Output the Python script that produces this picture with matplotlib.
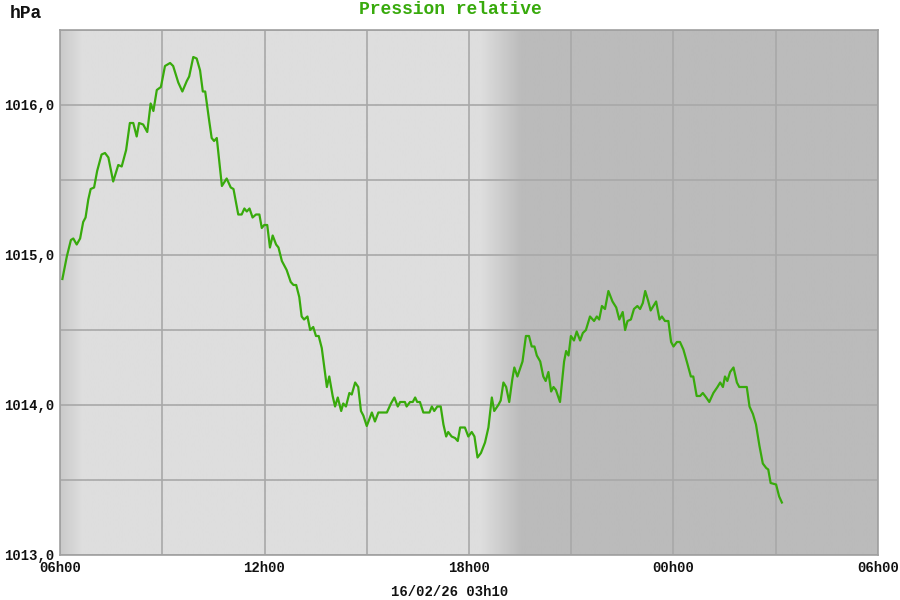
import numpy as np
import matplotlib
matplotlib.use("Agg")
import matplotlib.pyplot as plt
from matplotlib.colors import LinearSegmentedColormap

# Hours elapsed since 06h00 on the first day
hours = [0.07, 0.20, 0.32, 0.39, 0.49, 0.59, 0.68, 0.75, 0.83, 0.90, 1.00, 1.09, 1.22, 1.32, 1.42, 1.56,
         1.71, 1.81, 1.94, 2.05, 2.15, 2.25, 2.32, 2.44, 2.56, 2.66, 2.74, 2.84, 2.96, 3.08, 3.23, 3.32,
         3.47, 3.59, 3.72, 3.79, 3.91, 4.01, 4.11, 4.19, 4.26, 4.38, 4.45, 4.52, 4.60, 4.75, 4.89, 5.01,
         5.09, 5.23, 5.33, 5.41, 5.48, 5.56, 5.65, 5.75, 5.85, 5.92, 5.99, 6.08, 6.16, 6.24, 6.34, 6.41,
         6.51, 6.65, 6.77, 6.85, 6.93, 7.02, 7.09, 7.16, 7.26, 7.34, 7.43, 7.51, 7.59, 7.68, 7.75, 7.83,
         7.90, 8.00, 8.07, 8.15, 8.25, 8.31, 8.39, 8.49, 8.56, 8.66, 8.75, 8.83, 8.90, 9.00, 9.15, 9.24,
         9.34, 9.59, 9.71, 9.81, 9.91, 9.98, 10.12, 10.17, 10.27, 10.35, 10.42, 10.48, 10.56, 10.66, 10.84, 10.91,
         10.98, 11.07, 11.17, 11.25, 11.33, 11.39, 11.49, 11.59, 11.67, 11.74, 11.88, 11.98, 12.08, 12.16, 12.25, 12.35,
         12.47, 12.57, 12.67, 12.74, 12.86, 12.93, 13.01, 13.09, 13.18, 13.27, 13.33, 13.42, 13.57, 13.67, 13.76, 13.84,
         13.92, 13.99, 14.09, 14.18, 14.25, 14.33, 14.41, 14.48, 14.55, 14.67, 14.79, 14.85, 14.92, 14.99, 15.08, 15.16,
         15.26, 15.34, 15.43, 15.55, 15.67, 15.75, 15.82, 15.90, 15.99, 16.09, 16.21, 16.32, 16.41, 16.51, 16.58, 16.65,
         16.75, 16.84, 16.94, 17.02, 17.10, 17.17, 17.25, 17.33, 17.49, 17.59, 17.66, 17.75, 17.85, 17.93, 18.00, 18.10,
         18.19, 18.29, 18.39, 18.51, 18.58, 18.68, 18.78, 18.86, 18.96, 19.05, 19.17, 19.29, 19.37, 19.45, 19.51, 19.58,
         19.66, 19.76, 19.86, 19.93, 20.15, 20.23, 20.33, 20.42, 20.52, 20.62, 20.72, 20.78, 20.85, 21.01, 21.10, 21.18]

pressure = [1014.84, 1014.99, 1015.10, 1015.11, 1015.07, 1015.11, 1015.22, 1015.25, 1015.37, 1015.44, 1015.45, 1015.56, 1015.67, 1015.68, 1015.65, 1015.49,
            1015.60, 1015.59, 1015.70, 1015.88, 1015.88, 1015.79, 1015.88, 1015.87, 1015.82, 1016.01, 1015.96, 1016.10, 1016.12, 1016.26, 1016.28, 1016.26,
            1016.15, 1016.09, 1016.16, 1016.19, 1016.32, 1016.31, 1016.23, 1016.09, 1016.09, 1015.89, 1015.78, 1015.76, 1015.78, 1015.46, 1015.51, 1015.45,
            1015.44, 1015.27, 1015.27, 1015.31, 1015.29, 1015.31, 1015.25, 1015.27, 1015.27, 1015.18, 1015.20, 1015.20, 1015.05, 1015.13, 1015.07, 1015.05,
            1014.96, 1014.90, 1014.82, 1014.80, 1014.80, 1014.72, 1014.59, 1014.57, 1014.59, 1014.50, 1014.52, 1014.46, 1014.46, 1014.38, 1014.26, 1014.12,
            1014.19, 1014.06, 1013.99, 1014.05, 1013.96, 1014.01, 1013.99, 1014.08, 1014.07, 1014.15, 1014.12, 1013.96, 1013.93, 1013.86, 1013.95, 1013.89,
            1013.95, 1013.95, 1014.01, 1014.05, 1013.99, 1014.02, 1014.02, 1013.99, 1014.02, 1014.02, 1014.05, 1014.02, 1014.02, 1013.95, 1013.95, 1013.99,
            1013.96, 1013.99, 1013.99, 1013.87, 1013.79, 1013.82, 1013.79, 1013.78, 1013.76, 1013.85, 1013.85, 1013.79, 1013.82, 1013.79, 1013.65, 1013.68,
            1013.75, 1013.85, 1014.05, 1013.96, 1014.00, 1014.03, 1014.15, 1014.12, 1014.02, 1014.17, 1014.25, 1014.19, 1014.29, 1014.46, 1014.46, 1014.39,
            1014.39, 1014.33, 1014.29, 1014.19, 1014.16, 1014.22, 1014.09, 1014.12, 1014.10, 1014.02, 1014.29, 1014.36, 1014.33, 1014.46, 1014.43, 1014.49,
            1014.43, 1014.48, 1014.50, 1014.59, 1014.56, 1014.59, 1014.57, 1014.66, 1014.64, 1014.76, 1014.69, 1014.65, 1014.57, 1014.62, 1014.50, 1014.56,
            1014.57, 1014.64, 1014.66, 1014.64, 1014.68, 1014.76, 1014.70, 1014.63, 1014.69, 1014.57, 1014.59, 1014.56, 1014.56, 1014.42, 1014.39, 1014.42,
            1014.42, 1014.37, 1014.29, 1014.19, 1014.19, 1014.06, 1014.06, 1014.08, 1014.05, 1014.02, 1014.08, 1014.12, 1014.15, 1014.12, 1014.19, 1014.16,
            1014.22, 1014.25, 1014.15, 1014.12, 1014.12, 1013.99, 1013.94, 1013.87, 1013.73, 1013.61, 1013.58, 1013.57, 1013.48, 1013.47, 1013.39, 1013.35]

x_ticks = [0, 6, 12, 18, 24]
x_labels = ["06h00", "12h00", "18h00", "00h00", "06h00"]
y_ticks = [1013.0, 1014.0, 1015.0, 1016.0]
y_labels = ["1013,0", "1014,0", "1015,0", "1016,0"]
title = "Pression relative"
unit = "hPa"
stamp = "16/02/26 03h10"

FONT = "Liberation Mono"
GREEN = "#38aa0c"

fig = plt.figure(figsize=(9, 6), dpi=100, facecolor="white")
ax = fig.add_axes([60 / 900, 45 / 600, 818 / 900, 525 / 600])

x0, x1 = 0, 24
y0, y1 = 1013.0, 1016.5

# background: light day area, darker night area with gradients
xs = np.linspace(x0, x1, 1200)
shade = np.full_like(xs, 0.87)
left = xs < 0.65
shade[left] = 0.79 + (0.87 - 0.79) * (xs[left] / 0.65)
mid = (xs >= 12.35) & (xs < 13.55)
shade[mid] = 0.87 - (0.87 - 0.733) * (xs[mid] - 12.35) / 1.2
shade[xs >= 13.55] = 0.733
ax.imshow(shade[np.newaxis, :], extent=[x0, x1, y0, y1], aspect="auto",
          cmap="gray", vmin=0, vmax=1, interpolation="bilinear", zorder=0)

ax.set_xlim(x0, x1)
ax.set_ylim(y0, y1)

ax.set_xticks(x_ticks)
ax.set_xticklabels(x_labels)
ax.set_xticks([3, 9, 15, 21], minor=True)
ax.set_yticks(y_ticks)
ax.set_yticklabels(y_labels)
ax.set_yticks([1013.5, 1014.5, 1015.5, 1016.5], minor=True)

ax.grid(True, which="both", color="#a8a8a8", linewidth=1.2, zorder=1)
ax.tick_params(which="both", length=0, pad=4)
for lab in ax.get_xticklabels() + ax.get_yticklabels():
    lab.set_fontfamily(FONT)
    lab.set_fontweight("bold")
    lab.set_fontsize(10)
    lab.set_color("#111111")

for side in ["top", "bottom", "right", "left"]:
    ax.spines[side].set_color("#a0a0a0")
    ax.spines[side].set_linewidth(1.2)

ax.plot(hours, pressure, color=GREEN, linewidth=1.6, zorder=3, solid_joinstyle="round")

fig.text(0.5, 1 - 10 / 600, title, ha="center", va="center", color=GREEN,
         fontfamily=FONT, fontweight="bold", fontsize=13)
fig.text(10 / 900, 1 - 14 / 600, unit, ha="left", va="center", color="#111111",
         fontfamily=FONT, fontweight="bold", fontsize=13)
fig.text(0.5, 1 - 592 / 600, stamp, ha="center", va="center", color="#111111",
         fontfamily=FONT, fontweight="bold", fontsize=10)

fig.savefig("out.png", dpi=100, facecolor="white")
